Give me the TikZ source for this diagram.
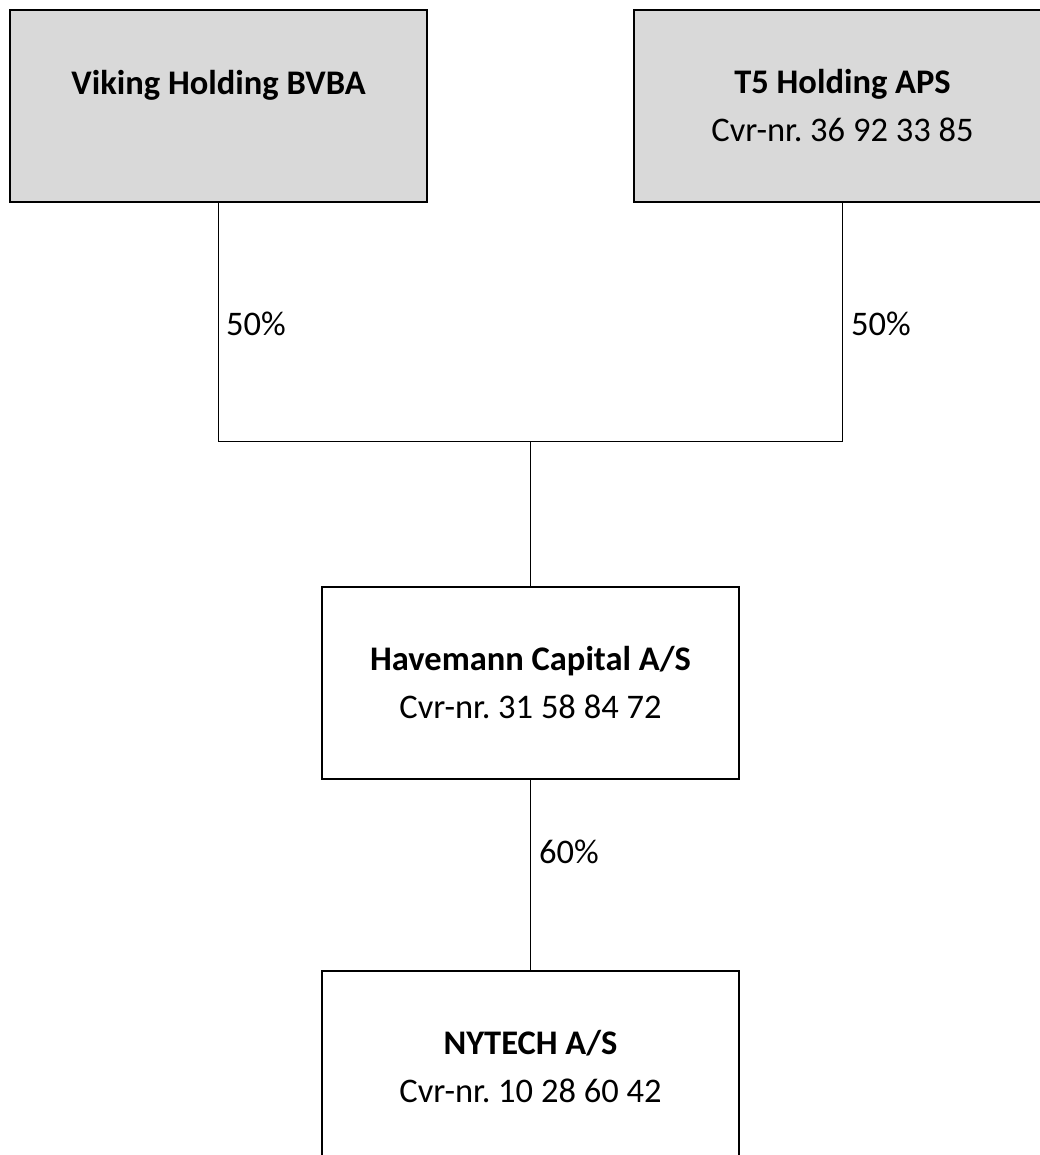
\documentclass[tikz,border=0pt]{standalone}
\usepackage{fontspec}
\setmainfont{Carlito}
\frenchspacing
\definecolor{boxgray}{HTML}{D9D9D9}
\tikzset{
  entity/.style={draw, line width=2pt, minimum width=417pt, minimum height=192pt,
    align=center, inner sep=0pt, font=\fontsize{34.5}{48}\selectfont},
  holding/.style={entity, fill=boxgray},
  share/.style={anchor=base west, inner sep=0pt, font=\fontsize{34.5}{48}\selectfont},
  link/.style={line width=1.5pt}
}
\begin{document}
\begin{tikzpicture}[x=1pt, y=-1pt]
  \useasboundingbox (0,0) rectangle (1040,1155);
  \clip (0,0) rectangle (1040,1155);
  % owners
  \node[holding] (viking) at (218.5,106) {\textbf{Viking Holding BVBA}\\ \mbox{}};
  \node[holding] (tfive) at (842.5,106) {\textbf{T5 Holding APS}\\ Cvr-nr. 36 92 33 85};
  % companies
  \node[entity] (havemann) at (530.5,682.5) {\textbf{Havemann Capital A/S}\\ Cvr-nr. 31 58 84 72};
  \node[entity] (nytech) at (530.5,1067) {\textbf{NYTECH A/S}\\ Cvr-nr. 10 28 60 42};
  \coordinate (join) at (530.5,441.5);
  \draw[link] (viking.south) -- (viking.south |- join) -- (tfive.south |- join) -- (tfive.south);
  \draw[link] (join) -- (havemann.north);
  \draw[link] (havemann.south) -- (nytech.north);
  % shares
  \node[share] (shareviking) at (226,335) {50\%};
  \node[share] (sharetfive) at (851,335) {50\%};
  \node[share] (sharehavemann) at (539,863) {60\%};
\end{tikzpicture}
\end{document}
